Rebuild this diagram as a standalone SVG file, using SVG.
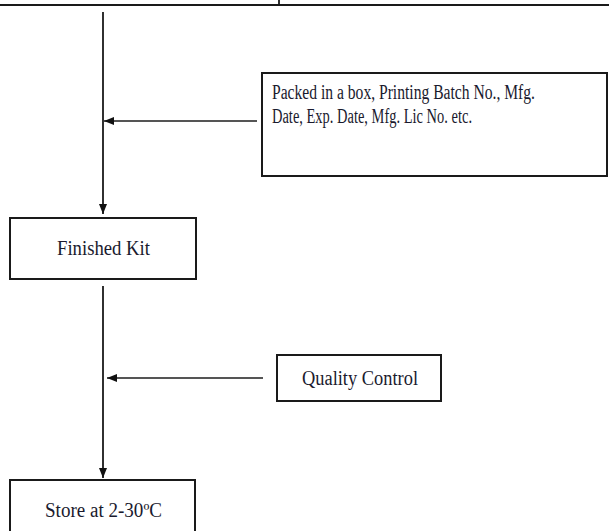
<svg xmlns="http://www.w3.org/2000/svg" width="609" height="531" viewBox="0 0 609 531">
<style>
.box{fill:#fff;stroke:#1a1a1a;stroke-width:2}
.ln{stroke:#1a1a1a;stroke-width:1.8;fill:none}
.arr{stroke:#555;stroke-width:1.8;fill:none}
.t{font-family:"Liberation Serif","Times New Roman",serif;font-size:20px;fill:#1a1a2e}
</style>
<defs>
<marker id="ah" viewBox="0 0 10 10" refX="10" refY="5" markerWidth="10" markerHeight="10" markerUnits="userSpaceOnUse" orient="auto">
<path d="M0,1 L10,5 L0,9 Z" fill="#111"/>
</marker>
</defs>
<rect width="609" height="531" fill="#fff"/>
<g id="top">
<line class="ln" x1="0" y1="5" x2="609" y2="5"/>
<line class="ln" x1="279" y1="0" x2="279" y2="5"/>
</g>
<g id="connectors">
<line class="ln" x1="103" y1="12" x2="103" y2="214" marker-end="url(#ah)"/>
<line class="arr" x1="257" y1="121" x2="104" y2="121" marker-end="url(#ah)"/>
<line class="ln" x1="103" y1="286" x2="103" y2="478" marker-end="url(#ah)"/>
<line class="arr" x1="263" y1="378" x2="107" y2="378" marker-end="url(#ah)"/>
</g>
<g id="packed">
<rect class="box" x="262" y="73" width="345" height="103"/>
<text class="t" x="272" y="99" textLength="263" lengthAdjust="spacingAndGlyphs">Packed in a box, Printing Batch No., Mfg.</text>
<text class="t" x="272" y="123" textLength="200" lengthAdjust="spacingAndGlyphs">Date, Exp. Date, Mfg. Lic No. etc.</text>
</g>
<g id="finished">
<rect class="box" x="10" y="218" width="186" height="61"/>
<text class="t" x="57" y="255" textLength="93" lengthAdjust="spacingAndGlyphs">Finished Kit</text>
</g>
<g id="qc">
<rect class="box" x="277" y="355" width="164" height="46"/>
<text class="t" x="302" y="385" textLength="116" lengthAdjust="spacingAndGlyphs">Quality Control</text>
</g>
<g id="store">
<rect class="box" x="10" y="480" width="185" height="60"/>
<text class="t" x="45" y="517" textLength="117" lengthAdjust="spacingAndGlyphs">Store at 2-30ºC</text>
</g>
</svg>
